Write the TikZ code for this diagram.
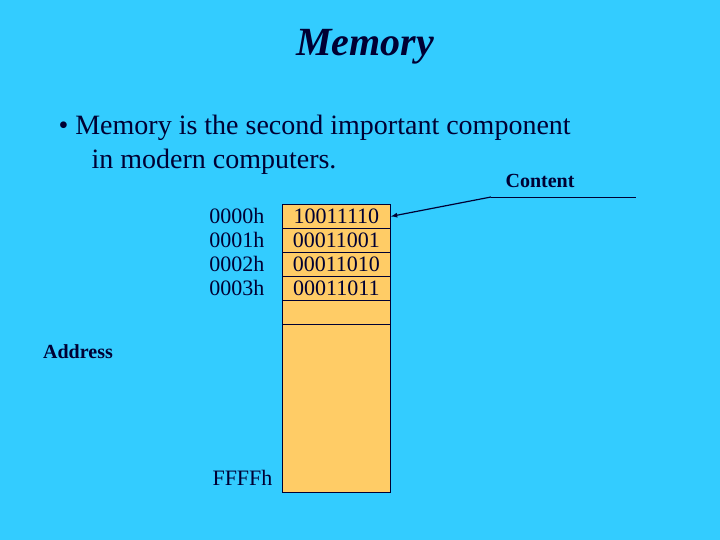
\documentclass[tikz,border=0pt]{standalone}
\usepackage{fontspec}
\setmainfont{Liberation Serif}
\definecolor{bg}{HTML}{33CCFF}
\definecolor{cell}{HTML}{FFCC66}
\definecolor{ink}{HTML}{000033}
\begin{document}
\begin{tikzpicture}[x=1pt,y=-1pt,
  cellbox/.style={draw=ink,fill=cell,line width=0.8pt,minimum width=108pt,minimum height=24pt,inner sep=0pt,anchor=north west,font=\fontsize{22}{22}\selectfont,text=ink},
  addr/.style={anchor=east,font=\fontsize{22}{22}\selectfont,text=ink},
  lbl/.style={font=\bfseries\fontsize{20}{20}\selectfont,text=ink}]
\fill[bg] (0,0) rectangle (720,540);
\node[text=ink,font=\bfseries\itshape\fontsize{40}{40}\selectfont] (title) at (365,47) {Memory};
\node[anchor=west,text=ink,font=\fontsize{28}{34}\selectfont,align=left] (b) at (55,145)
  {• Memory is the second important component\\\hspace{33pt}in modern computers.};
\node[cellbox] (c0) at (282,204) {10011110};
\node[cellbox] (c1) at (282,228) {00011001};
\node[cellbox] (c2) at (282,252) {00011010};
\node[cellbox] (c3) at (282,276) {00011011};
\node[cellbox] (c4) at (282,300) {};
\node[cellbox,minimum height=168pt] (c5) at (282,324) {};
\node[addr] (a0) at (268,216) {0000h};
\node[addr] (a1) at (268,240) {0001h};
\node[addr] (a2) at (268,264) {0002h};
\node[addr] (a3) at (268,288) {0003h};
\node[addr] (af) at (276,478) {FFFFh};
\node[lbl] (addrl) at (78,352) {Address};
\node[lbl] (cont) at (540,181) {Content};
\coordinate (k) at (491,197);
\coordinate (e) at (636,197);
\draw[ink,line width=0.8pt] (k) -- (e);
\draw[ink,line width=1.2pt,-latex] (k) -- (c0.east);
\end{tikzpicture}
\end{document}
